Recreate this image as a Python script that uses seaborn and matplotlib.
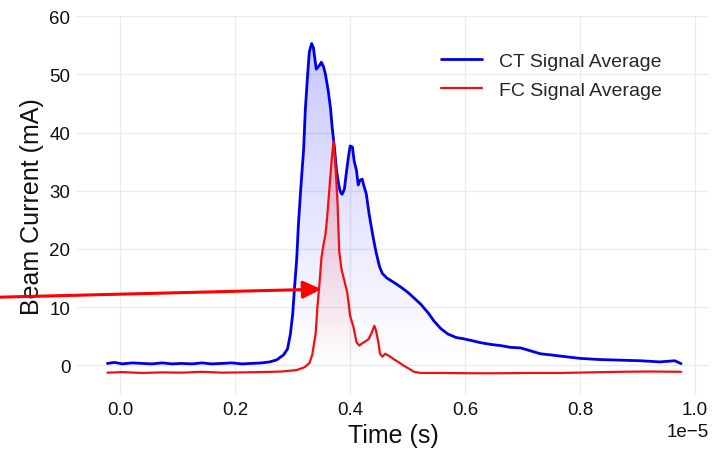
import numpy as np
import pandas as pd
import matplotlib
matplotlib.use("Agg")
import matplotlib.pyplot as plt
import matplotlib.colors as mcolors
from matplotlib.patches import Polygon
import seaborn as sns

# CT signal average (time in microseconds, current in mA)
ct_time_us = [-0.225, -0.10, 0.03, 0.21, 0.38, 0.55, 0.73, 0.90, 1.07, 1.25, 1.42, 1.59,
              1.77, 1.94, 2.11, 2.29, 2.46, 2.60, 2.72, 2.84, 2.91, 2.96, 3.00, 3.03,
              3.07, 3.10, 3.14, 3.19, 3.22, 3.26, 3.29, 3.33, 3.36, 3.41, 3.47, 3.50,
              3.54, 3.57, 3.62, 3.66, 3.69, 3.73, 3.76, 3.80, 3.83, 3.86, 3.90, 3.93,
              3.97, 4.00, 4.04, 4.07, 4.11, 4.14, 4.17, 4.21, 4.24, 4.28, 4.33, 4.40,
              4.45, 4.51, 4.56, 4.64, 4.77, 4.89, 5.01, 5.11, 5.23, 5.36, 5.46, 5.58,
              5.70, 5.84, 5.96, 6.10, 6.27, 6.45, 6.62, 6.79, 6.97, 7.14, 7.31, 7.49,
              7.66, 7.83, 8.01, 8.18, 8.35, 8.70, 9.05, 9.39, 9.65, 9.76]
ct_current = [0.34, 0.51, 0.26, 0.43, 0.34, 0.26, 0.43, 0.26, 0.34, 0.26, 0.43, 0.26,
              0.34, 0.43, 0.26, 0.34, 0.43, 0.60, 0.94, 1.80, 2.83, 5.40, 8.83, 13.1,
              18.3, 24.3, 30.3, 37.1, 44.0, 50.0, 53.9, 55.3, 54.6, 50.9, 51.6, 52.1,
              51.2, 50.0, 47.1, 44.0, 40.6, 37.1, 33.7, 31.1, 29.8, 29.4, 30.3, 32.8,
              35.8, 37.7, 37.5, 35.1, 33.5, 31.0, 31.8, 32.0, 30.8, 29.5, 26.0, 22.0,
              19.5, 17.0, 15.8, 15.0, 14.2, 13.4, 12.5, 11.6, 10.5, 9.0, 7.6, 6.3,
              5.4, 4.8, 4.6, 4.3, 3.9, 3.6, 3.4, 3.1, 3.0, 2.5, 2.0, 1.8,
              1.6, 1.4, 1.2, 1.1, 1.0, 0.9, 0.8, 0.6, 0.8, 0.3]

# FC signal average
fc_time_us = [-0.225, 0.03, 0.38, 0.73, 1.07, 1.42, 1.77, 2.11, 2.46, 2.81, 3.07, 3.21,
              3.29, 3.34, 3.40, 3.43, 3.47, 3.50, 3.54, 3.57, 3.60, 3.64, 3.68, 3.71,
              3.74, 3.78, 3.81, 3.85, 3.90, 3.95, 4.00, 4.06, 4.11, 4.16, 4.21, 4.26,
              4.32, 4.37, 4.42, 4.45, 4.49, 4.52, 4.56, 4.61, 4.68, 4.77, 4.85, 4.94,
              5.03, 5.11, 5.23, 5.58, 6.10, 6.62, 7.14, 7.66, 8.18, 8.70, 9.22, 9.76]
fc_current = [-1.25, -1.15, -1.30, -1.20, -1.25, -1.10, -1.25, -1.20, -1.15, -1.05, -0.80, -0.30,
              0.4, 1.8, 5.5, 10.0, 14.5, 18.5, 21.0, 22.5, 25.5, 30.5, 35.5, 38.5,
              35.0, 28.0, 19.5, 16.5, 14.5, 12.5, 8.5, 6.5, 4.0, 3.4, 3.8, 4.1,
              4.5, 5.5, 6.8, 6.0, 4.0, 2.0, 1.5, 2.0, 1.6, 1.0, 0.5, -0.1,
              -0.6, -1.1, -1.3, -1.3, -1.35, -1.35, -1.3, -1.3, -1.2, -1.1, -1.05, -1.1]

# arrow annotation (data units: microseconds, mA)
arrow_tail = (-2.6, 11.6)
arrow_tip = (3.50, 13.1)

ct = pd.DataFrame({"t": np.array(ct_time_us) * 1e-6, "I": ct_current})
fc = pd.DataFrame({"t": np.array(fc_time_us) * 1e-6, "I": fc_current})

sns.set_theme(style="whitegrid")
plt.rcParams["font.family"] = ["Liberation Sans", "DejaVu Sans"]
plt.rcParams["grid.color"] = "#ebebeb"
plt.rcParams["grid.linewidth"] = 1.0


def gradient_fill(ax, x, y, color, alpha_max, zorder):
    x = np.asarray(x)
    y = np.asarray(y)
    y0, y1 = y.min(), y.max()
    rgba = np.zeros((200, 1, 4))
    rgba[:, :, :3] = mcolors.to_rgb(color)
    rgba[:, 0, 3] = np.linspace(0, alpha_max, 200)
    im = ax.imshow(rgba, aspect="auto", origin="lower", interpolation="bilinear",
                   extent=[x.min(), x.max(), y0, y1], zorder=zorder)
    verts = np.vstack([[x[0], y0], np.column_stack([x, y]), [x[-1], y0]])
    clip = Polygon(verts, closed=True, facecolor="none", edgecolor="none")
    ax.add_patch(clip)
    im.set_clip_path(clip)


fig, ax = plt.subplots(figsize=(7.15, 4.52), dpi=100)
fig.subplots_adjust(left=0.108, right=0.992, bottom=0.125, top=0.962)

gradient_fill(ax, ct["t"], ct["I"], "blue", 0.22, 1)
gradient_fill(ax, fc["t"], fc["I"], "red", 0.22, 2)

sns.lineplot(data=ct, x="t", y="I", ax=ax, color="#0000e6", lw=2.0,
             label="CT Signal Average", zorder=3)
sns.lineplot(data=fc, x="t", y="I", ax=ax, color="#ee1111", lw=1.6,
             label="FC Signal Average", zorder=4)

ax.annotate("", xy=(arrow_tip[0] * 1e-6, arrow_tip[1]),
            xytext=(arrow_tail[0] * 1e-6, arrow_tail[1]),
            arrowprops=dict(arrowstyle="-|>,head_length=0.8,head_width=0.38",
                            color="red", lw=2.2, mutation_scale=14,
                            shrinkA=0, shrinkB=0),
            annotation_clip=False, zorder=6)

ax.set_xlim(-0.075e-5, 1.025e-5)
ax.set_ylim(-5, 60)
ax.set_yticks([0, 10, 20, 30, 40, 50, 60])
ax.set_xticks([0, 0.2e-5, 0.4e-5, 0.6e-5, 0.8e-5, 1.0e-5])
for s in ax.spines.values():
    s.set_visible(False)
ax.tick_params(labelsize=13.5, colors="#111111", pad=5, length=0)
ax.xaxis.get_offset_text().set_fontsize(13.5)
ax.set_xlabel("Time (s)", fontsize=18, color="#111111", labelpad=3)
ax.set_ylabel("Beam Current (mA)", fontsize=18, color="#111111", labelpad=4)

ax.legend(loc="center", bbox_to_anchor=(0.75, 0.843), frameon=False, fontsize=14,
          handlelength=2.1, labelspacing=0.58, handletextpad=0.85)

fig.savefig("out.png", dpi=100)
